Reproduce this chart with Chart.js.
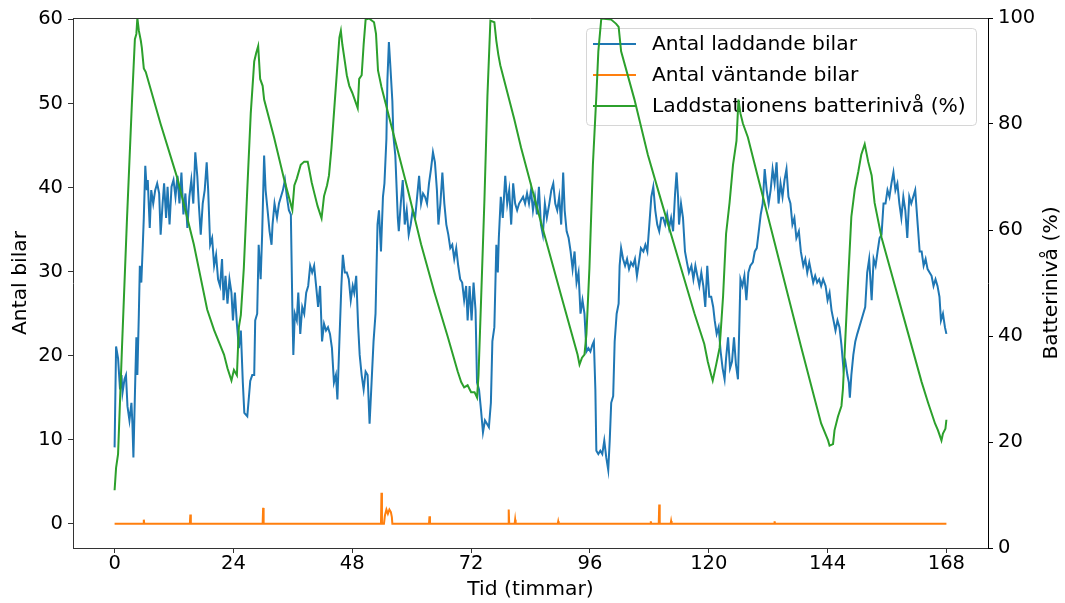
<!DOCTYPE html>
<html>
<head>
<meta charset="utf-8">
<script src="https://cdn.jsdelivr.net/npm/chart.js@4.4.1/dist/chart.umd.min.js"></script>
<style>
  html, body { margin: 0; padding: 0; background: #fff; }
  canvas { display: block; }
</style>
</head>
<body>
<canvas id="chart" width="1065" height="603" style="width:1065px;height:603px"></canvas>
<script>
// [timme, antal]
const chargingCars = [
  [0.0,9.1],[0.3,21.1],[0.7,19.7],[1.1,16.0],[1.4,17.7],[1.6,15.6],[2.0,17.2],[2.3,17.7],[2.6,14.0],[3.0,12.3],
  [3.4,14.4],[3.6,11.9],[3.8,7.9],[4.2,17.7],[4.4,22.2],[4.6,17.7],[4.9,25.0],[5.1,30.7],[5.4,28.7],[5.7,33.2],
  [5.9,36.4],[6.2,42.6],[6.5,39.7],[6.7,40.9],[7.1,35.2],[7.4,39.7],[7.8,38.1],[8.2,39.7],[8.6,40.5],[9.0,39.3],
  [9.3,34.4],[9.7,38.1],[10.0,40.5],[10.4,36.4],[10.7,40.1],[11.1,35.6],[11.5,40.1],[11.9,40.9],[12.3,38.9],[12.7,41.4],
  [13.1,38.1],[13.5,41.8],[13.9,36.8],[14.3,39.3],[14.7,35.2],[15.1,38.9],[15.5,40.9],[15.9,38.1],[16.3,44.2],[16.7,41.4],
  [17.0,38.1],[17.4,34.4],[17.8,38.1],[18.2,39.7],[18.6,43.0],[18.9,39.7],[19.3,33.2],[19.7,34.0],[20.1,30.7],[20.5,32.0],
  [20.9,29.1],[21.3,28.3],[21.7,31.5],[22.0,26.6],[22.4,29.5],[22.8,26.2],[23.2,29.1],[23.6,27.5],[23.9,24.2],[24.3,27.5],
  [24.7,23.8],[25.1,20.9],[25.5,23.0],[25.9,16.8],[26.2,13.2],[26.8,12.8],[27.4,17.0],[27.8,17.7],[28.2,17.7],[28.4,24.2],
  [28.8,25.0],[29.1,33.2],[29.5,29.1],[29.8,34.4],[30.2,43.8],[30.5,39.7],[30.9,37.3],[31.3,34.8],[31.7,33.2],[31.9,35.6],
  [32.3,38.1],[32.8,36.4],[33.2,38.1],[33.6,38.9],[34.0,39.7],[34.4,40.9],[34.8,38.9],[35.2,37.3],[35.6,36.8],[35.9,25.8],
  [36.1,20.1],[36.4,25.0],[36.8,24.2],[37.1,27.5],[37.5,22.6],[37.9,25.8],[38.3,25.0],[38.7,27.5],[39.1,28.3],[39.5,30.7],
  [39.9,29.9],[40.3,30.7],[40.7,28.3],[41.1,25.8],[41.5,28.3],[41.9,21.7],[42.3,23.8],[42.7,23.0],[43.1,23.4],[43.5,22.6],
  [43.9,20.9],[44.3,16.8],[44.7,17.7],[45.0,14.8],[45.4,21.7],[45.8,28.3],[46.1,32.0],[46.5,29.9],[46.9,29.9],[47.3,29.1],
  [47.7,26.6],[48.1,28.3],[48.4,27.5],[48.8,29.5],[49.2,23.4],[49.5,20.1],[49.9,17.7],[50.3,16.0],[50.7,18.1],[51.1,17.7],
  [51.5,11.9],[51.9,16.8],[52.3,21.7],[52.7,25.0],[53.1,35.6],[53.4,37.3],[53.8,32.4],[54.2,38.9],[54.5,40.5],[54.9,45.8],
  [55.1,52.8],[55.4,57.3],[55.7,54.4],[56.1,50.3],[56.3,46.2],[56.7,43.8],[57.2,36.4],[57.4,34.8],[57.8,38.1],[58.2,40.9],
  [58.6,35.6],[59.0,37.3],[59.4,34.4],[59.8,35.6],[60.2,37.3],[60.7,36.4],[61.1,38.9],[61.5,41.4],[61.9,38.1],[62.3,39.3],
  [62.7,38.9],[63.1,38.1],[63.5,40.5],[63.9,42.2],[64.3,44.2],[64.7,43.0],[65.1,39.7],[65.4,35.6],[65.8,38.1],[66.2,41.8],
  [66.6,38.1],[67.0,35.6],[67.4,34.4],[67.8,32.8],[68.2,33.2],[68.6,31.5],[69.0,32.8],[69.4,30.7],[69.8,29.1],[70.2,28.7],
  [70.6,26.6],[71.0,28.3],[71.3,24.2],[71.7,28.3],[72.1,24.2],[72.5,28.7],[72.9,25.4],[73.2,16.8],[73.6,16.0],[74.0,13.6],
  [74.4,10.9],[74.8,12.3],[75.2,11.9],[75.6,11.5],[76.0,14.4],[76.3,21.7],[76.7,23.4],[77.1,33.2],[77.4,29.9],[77.6,34.0],
  [78.0,38.9],[78.4,36.4],[78.9,41.4],[79.3,38.1],[79.7,39.7],[80.1,35.6],[80.5,40.5],[80.9,38.1],[81.3,37.3],[81.7,38.1],
  [82.1,38.5],[82.5,38.9],[82.9,38.1],[83.3,39.3],[83.7,38.1],[84.1,39.7],[84.5,37.3],[84.9,38.9],[85.3,36.8],[85.7,40.1],
  [86.1,35.6],[86.5,34.4],[86.9,38.1],[87.3,36.4],[87.8,38.1],[88.2,39.7],[88.6,40.5],[89.0,38.1],[89.4,37.3],[89.8,38.9],
  [90.2,35.6],[90.6,41.8],[90.9,37.3],[91.3,34.8],[91.7,34.0],[92.1,32.4],[92.5,30.3],[92.9,32.4],[93.3,28.7],[93.7,29.9],
  [94.1,25.0],[94.5,26.6],[94.9,25.0],[95.3,20.5],[95.7,20.9],[96.1,20.5],[96.5,21.3],[96.8,21.7],[97.1,16.0],[97.3,8.7],
  [97.7,8.3],[98.1,8.7],[98.5,8.3],[98.9,9.9],[99.3,7.9],[99.7,6.4],[100.0,9.9],[100.3,14.4],[100.7,15.2],[101.0,21.7],
  [101.4,25.0],[101.8,26.2],[102.0,30.7],[102.3,32.8],[102.7,31.5],[103.1,30.7],[103.5,31.5],[103.9,30.3],[104.3,31.1],[104.7,30.7],
  [105.1,31.5],[105.5,29.5],[105.9,31.1],[106.3,32.8],[106.8,32.4],[107.2,33.2],[107.6,32.4],[108.0,35.6],[108.4,38.9],[108.8,40.1],
  [109.2,37.3],[109.6,35.6],[110.0,34.8],[110.4,36.4],[110.8,36.4],[111.2,35.6],[111.6,36.8],[112.0,35.2],[112.4,36.4],[112.8,34.8],
  [113.2,39.3],[113.5,41.8],[113.8,38.9],[114.0,35.6],[114.4,38.1],[114.8,36.4],[115.2,32.4],[115.6,31.1],[116.0,29.9],[116.5,30.7],
  [116.9,29.1],[117.3,30.7],[117.7,29.5],[118.1,28.3],[118.5,29.9],[118.9,28.3],[119.3,25.8],[119.7,30.7],[120.1,27.0],[120.5,27.0],
  [120.9,25.8],[121.2,24.2],[121.6,22.6],[122.0,23.4],[122.4,20.5],[122.8,18.5],[123.2,17.2],[123.5,19.7],[123.9,22.2],[124.3,18.5],
  [124.7,19.3],[125.1,22.2],[125.5,18.9],[125.9,17.2],[126.2,24.2],[126.4,29.1],[126.8,28.3],[127.2,29.5],[127.6,26.6],[128.0,29.9],
  [128.4,30.7],[128.9,31.1],[129.3,32.4],[129.7,32.8],[130.1,34.8],[130.5,36.8],[130.9,38.1],[131.3,42.2],[131.7,39.7],[132.1,38.1],
  [132.5,39.7],[132.9,42.2],[133.3,40.5],[133.7,43.0],[134.1,38.1],[134.5,40.5],[134.9,38.9],[135.3,40.9],[135.7,42.2],[136.1,38.9],
  [136.5,38.1],[136.9,35.6],[137.3,36.4],[137.7,34.0],[138.2,34.8],[138.6,32.4],[139.1,30.7],[139.5,31.5],[139.9,29.9],[140.3,31.1],
  [140.7,29.9],[141.1,28.7],[141.5,29.5],[141.9,28.7],[142.3,29.1],[142.7,28.3],[143.1,29.1],[143.6,28.3],[144.0,26.6],[144.4,27.5],
  [144.8,25.4],[145.2,24.2],[145.6,23.0],[146.0,24.2],[146.4,23.4],[146.8,21.3],[147.2,18.5],[147.6,19.3],[148.0,17.7],[148.3,16.8],
  [148.5,15.0],[148.8,17.7],[149.2,20.1],[149.6,21.7],[150.0,22.6],[150.4,23.4],[150.8,24.2],[151.2,25.0],[151.6,25.8],[152.0,29.9],
  [152.4,31.5],[152.9,26.6],[153.3,31.5],[153.7,30.7],[154.1,32.4],[154.5,34.0],[154.9,34.4],[155.3,38.1],[155.7,38.1],[156.1,39.7],
  [156.5,38.9],[156.9,40.5],[157.3,41.8],[157.7,39.7],[158.1,40.5],[158.5,38.1],[158.9,36.4],[159.3,38.9],[159.7,37.3],[160.1,34.0],
  [160.5,38.9],[160.9,38.1],[161.3,38.9],[161.7,39.7],[162.2,35.6],[162.6,32.4],[163.0,32.4],[163.4,30.7],[163.8,31.5],[164.2,30.3],
  [164.6,29.9],[165.0,29.5],[165.4,28.3],[165.8,29.1],[166.2,28.3],[166.6,27.0],[166.9,24.2],[167.3,25.0],[167.7,23.4],[168.0,22.6]
];

const waitingCars = [
  [0,0],[5.8,0],[5.9,0.5],[6.0,0],[15.2,0],[15.3,1.1],[15.4,0],[29.9,0],[30.0,1.9],[30.1,0],
  [53.8,0],[53.9,3.7],[54.0,0],[54.4,0],[54.6,1.0],[54.9,1.7],[55.2,1.2],[55.5,1.7],[55.8,1.4],[56.0,0.8],[56.1,0],
  [63.5,0],[63.6,0.9],[63.7,0],[79.5,0],[79.6,1.7],[79.7,0],[80.8,0],[80.9,0.5],[81.0,0],[89.5,0],[89.6,0.3],[89.7,0],
  [108.2,0],[108.3,0.3],[108.4,0],[109.9,0],[110.0,2.3],[110.1,0],[112.3,0],[112.4,0.35],[112.5,0],
  [133.2,0],[133.3,0.3],[133.4,0],[168,0]
];

const batteryLevel = [
  [0,10.9],[0.3,15.1],[0.7,17.7],[1.5,38],[2.5,62],[3.5,84],[4.1,96],[4.4,97],[4.6,100],[4.9,97.6],
  [5.3,95.7],[5.5,94.4],[5.9,90.5],[6.3,89.8],[9.3,80],[12.7,69.7],[16.0,57.3],[18.7,45],[20.1,41.1],[21.1,38.8],
  [22.1,36.5],[22.8,33.9],[23.6,31.6],[24.1,33.6],[24.7,32.6],[25.1,41.7],[25.5,44],[26.1,52.8],[26.8,67.7],[27.5,82],
  [28.2,91.8],[28.6,93.4],[29.0,94.7],[29.4,88.5],[29.9,87.2],[30.2,84.6],[32.2,77.5],[34.2,69.7],[35.9,63.8],[36.3,68.4],
  [36.8,69.7],[37.6,72.3],[38.3,72.9],[39.0,72.9],[39.4,71.0],[39.8,69.0],[40.3,67.1],[41.0,64.5],[41.8,62.2],[42.3,66.4],
  [42.9,68.4],[43.3,70.3],[43.8,75.5],[44.3,82],[44.9,89.8],[45.4,96.3],[45.7,97.6],[46.0,95],[46.5,91.8],[46.9,89.2],
  [47.4,87.2],[48.0,85.9],[48.5,84.6],[49.1,83.0],[49.4,88.5],[49.9,89.2],[50.3,95],[50.7,99.7],[51.4,99.9],[52.4,99.2],
  [52.8,97],[53.2,90.1],[53.9,87],[55.7,80.4],[59.2,67.7],[61.9,57.3],[64.6,48.2],[67.3,39.8],[69.3,33.3],[70.0,31.3],
  [70.6,30.3],[71.3,30.7],[72.0,29.4],[72.7,29.4],[73.2,28.4],[73.5,32.6],[74.0,46.3],[74.7,65.8],[75.3,85.3],[75.9,99.5],
  [76.7,99.2],[77.1,95.7],[77.5,93.1],[77.9,91.1],[80.7,81.0],[82.1,75.5],[86.1,61.5],[90.2,47.6],[93.5,36.5],[93.9,34.6],
  [94.4,35.9],[94.9,36.5],[95.3,40.4],[95.9,52.8],[96.6,72.3],[97.3,85.3],[97.7,93.7],[98.3,99.9],[100.3,99.7],[101.3,98.9],
  [101.8,98.3],[102.3,93.7],[105.0,84.6],[107.7,74.2],[110.4,65.5],[113.8,54.7],[117.1,44.3],[119.1,38.5],[119.8,35.2],[120.5,32.6],
  [120.8,31.6],[121.5,34.6],[122.2,37.8],[122.9,47.6],[123.5,59.3],[124.2,65.1],[124.9,72.3],[125.6,76.8],[126.0,84.6],[126.4,82],
  [126.9,80.1],[127.9,77.5],[129.9,70.1],[132.6,60.2],[136.0,47.7],[138.7,37.8],[141.4,28.1],[142.7,23.5],[144.1,20.3],[144.4,19.3],
  [145.1,19.6],[145.4,22.2],[146.1,24.8],[146.8,26.8],[147.1,30],[147.5,37.8],[148.1,49.5],[148.8,62.5],[149.5,67.7],[150.2,71],
  [150.8,74.2],[151.5,76.2],[152.2,72.9],[152.9,70.3],[153.5,65.1],[154.9,58.6],[157.6,49.5],[160.3,40.4],[163.0,31.3],[164.3,27.4],
  [165.7,23.5],[166.3,22.2],[167.0,20.3],[167.3,21.6],[167.8,22.5],[168.0,24.2]
];

const timeTicks = [0, 24, 48, 72, 96, 120, 144, 168];
const carTicks = [0, 10, 20, 30, 40, 50, 60];
const batteryTicks = [0, 20, 40, 60, 80, 100];

const seriesNames = ['Antal laddande bilar', 'Antal väntande bilar', 'Laddstationens batterinivå (%)'];
const seriesColors = ['#1f77b4', '#ff7f0e', '#2ca02c'];

const tickFont = { family: 'DejaVu Sans', size: 19.5 };
const labelFont = { family: 'DejaVu Sans', size: 20.3 };
const axisColor = '#333';

// matplotlib-ish frame, legend under the twin-axis line, right label bottom-to-top
const extras = {
  id: 'extras',
  beforeDatasetDraw(chart, args) {
    if (args.index !== 2) return;
    const ctx = chart.ctx;
    ctx.save();
    ctx.beginPath();
    ctx.roundRect(586.5, 28.5, 390, 97, 4);
    ctx.fillStyle = 'rgba(255,255,255,0.8)';
    ctx.fill();
    ctx.strokeStyle = 'rgba(204,204,204,0.8)';
    ctx.lineWidth = 1;
    ctx.stroke();
    const rows = [44, 75, 106];
    ctx.font = labelFont.size + 'px "DejaVu Sans"';
    ctx.textBaseline = 'middle';
    ctx.textAlign = 'left';
    rows.forEach((y, i) => {
      ctx.strokeStyle = seriesColors[i];
      ctx.lineWidth = 2;
      ctx.beginPath();
      ctx.moveTo(593, y);
      ctx.lineTo(636, y);
      ctx.stroke();
      ctx.fillStyle = '#000';
      ctx.fillText(seriesNames[i], 652, y + 1);
    });
    ctx.restore();
  },
  afterDraw(chart) {
    const ctx = chart.ctx;
    const a = chart.chartArea;
    ctx.save();
    ctx.strokeStyle = axisColor;
    ctx.lineWidth = 1;
    ctx.beginPath();
    ctx.moveTo(a.left, a.top + 0.5);
    ctx.lineTo(a.right, a.top + 0.5);
    ctx.stroke();
    ctx.translate(1057, (a.top + a.bottom) / 2);
    ctx.rotate(-Math.PI / 2);
    ctx.font = labelFont.size + 'px "DejaVu Sans"';
    ctx.fillStyle = '#000';
    ctx.textAlign = 'center';
    ctx.textBaseline = 'alphabetic';
    ctx.fillText('Batterinivå (%)', 0, 0);
    ctx.restore();
  }
};

new Chart(document.getElementById('chart'), {
  type: 'line',
  data: {
    datasets: [
      { label: seriesNames[0], data: chargingCars, borderColor: seriesColors[0], yAxisID: 'y', order: 2 },
      { label: seriesNames[1], data: waitingCars, borderColor: seriesColors[1], yAxisID: 'y', order: 1 },
      { label: seriesNames[2], data: batteryLevel, borderColor: seriesColors[2], yAxisID: 'y2', order: 0 }
    ]
  },
  options: {
    responsive: false,
    animation: false,
    devicePixelRatio: 1,
    layout: { padding: { top: 18, left: 0, right: 0, bottom: 0 } },
    elements: {
      point: { radius: 0 },
      line: { tension: 0, borderWidth: 2, fill: false }
    },
    plugins: {
      legend: { display: false },
      tooltip: { enabled: false }
    },
    scales: {
      x: {
        type: 'linear',
        min: -8.4,
        max: 176.4,
        afterBuildTicks: s => { s.ticks = timeTicks.map(v => ({ value: v })); },
        afterFit: s => { s.height = 55; },
        grid: { drawOnChartArea: false, tickLength: 5, color: axisColor },
        border: { color: axisColor },
        ticks: { font: tickFont, color: '#000', padding: -1, autoSkip: false, maxRotation: 0 },
        title: { display: true, text: 'Tid (timmar)', font: labelFont, color: '#000', padding: { top: 0, bottom: 1 } }
      },
      y: {
        type: 'linear',
        position: 'left',
        min: -2.87,
        max: 60.17,
        afterBuildTicks: s => { s.ticks = carTicks.map(v => ({ value: v })); },
        afterFit: s => { s.width = 73; },
        grid: { drawOnChartArea: false, tickLength: 5, color: axisColor },
        border: { color: axisColor },
        ticks: { font: tickFont, color: '#000', padding: 5 },
        title: { display: true, text: 'Antal bilar', font: labelFont, color: '#000', padding: { top: 9, bottom: 0 } }
      },
      y2: {
        type: 'linear',
        position: 'right',
        min: 0,
        max: 100,
        afterBuildTicks: s => { s.ticks = batteryTicks.map(v => ({ value: v })); },
        afterFit: s => { s.width = 77; },
        grid: { drawOnChartArea: false, tickLength: 5, color: '#000' },
        border: { color: '#000' },
        ticks: { font: tickFont, color: '#000', padding: 5 }
      }
    }
  },
  plugins: [extras]
});
</script>
</body>
</html>
